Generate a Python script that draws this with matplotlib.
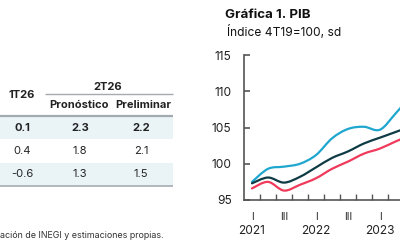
import matplotlib
matplotlib.use("Agg")
import matplotlib.pyplot as plt
from matplotlib.path import Path
from matplotlib.patches import PathPatch, Rectangle
import numpy as np

plt.rcParams['font.family'] = ['Inter', 'DejaVu Sans']

# ---- data ----
quarters = ["1T21", "2T21", "3T21", "4T21", "1T22", "2T22", "3T22", "4T22", "1T23", "2T23", "3T23"]
serie_alta = [97.5, 99.3, 99.6, 100.0, 101.2, 103.5, 104.8, 105.1, 104.7, 107.0, 109.5]
serie_media = [97.3, 98.1, 97.4, 98.2, 99.5, 100.8, 101.7, 102.8, 103.6, 104.4, 105.2]
serie_baja = [96.6, 97.5, 96.3, 97.1, 98.0, 99.3, 100.3, 101.4, 102.1, 103.1, 104.0]
quarter_labels = ["I", "", "III", "", "I", "", "III", "", "I"]
years = ["2021", "2022", "2023"]
yticks = [95, 100, 105, 110, 115]

col_headers = ["1T26", "Pronóstico", "Preliminar"]
group_header = "2T26"
table_rows = [["0.1", "2.3", "2.2"],
              ["0.4", "1.8", "2.1"],
              ["-0.6", "1.3", "1.5"]]
footnote = "ación de INEGI y estimaciones propias."
title = "Gráfica 1. PIB"
subtitle = "Índice 4T19=100, sd"

c_alta = "#1fa6cf"
c_media = "#0f3b45"
c_baja = "#f03a5c"
txt = "#222222"
grey = "#a3aab0"

fig = plt.figure(figsize=(4, 2.4), dpi=100)

# ---- table / text layer in pixel coordinates ----
tab = fig.add_axes([0, 0, 1, 1])
tab.set_xlim(0, 400)
tab.set_ylim(240, 0)
tab.axis("off")

col_x = [22, 80, 141]
row_y = [128, 151, 174]
for i, r in enumerate(table_rows):
    if i % 2 == 0:
        tab.add_patch(Rectangle((0, row_y[i] - 11), 173, 22, color="#eaf4f7", lw=0, zorder=0))
    for j, v in enumerate(r):
        tab.text(col_x[j], row_y[i], v, ha="center", va="center", fontsize=8,
                 fontweight="bold" if i == 0 else "normal", color=txt)

tab.text(col_x[0], 95, col_headers[0], ha="center", va="center", fontsize=8, fontweight="bold", color=txt)
tab.text(108, 86.5, group_header, ha="center", va="center", fontsize=8, fontweight="bold", color=txt)
tab.text(col_x[1] - 1, 105, col_headers[1], ha="center", va="center", fontsize=8, fontweight="bold", color=txt)
tab.text(143, 105, col_headers[2], ha="center", va="center", fontsize=8, fontweight="bold", color=txt)
tab.plot([45, 173], [93.5, 93.5], color=grey, lw=1.0, solid_capstyle="butt")
tab.plot([0, 173], [116, 116], color=grey, lw=1.6, solid_capstyle="butt")
tab.plot([0, 173], [185.5, 185.5], color=grey, lw=1.2, solid_capstyle="butt")
tab.text(0, 235, footnote, ha="left", va="center", fontsize=6.4, color="#333333")

tab.text(225, 15, title, ha="left", va="center", fontsize=9.6, fontweight="bold", color="#111111")
tab.text(227, 32, subtitle, ha="left", va="center", fontsize=8.6, color="#111111")

# ---- chart ----
ax = fig.add_axes([244 / 400, 40 / 240, 256 / 400, 145 / 240])
ax.set_xlim(-0.5, 15.5)
ax.set_ylim(95, 115)
x = np.arange(len(quarters))


def smooth_path(xs, ys):
    pts = np.column_stack([xs, ys])
    verts = [pts[0]]
    codes = [Path.MOVETO]
    n = len(pts)
    for i in range(n - 1):
        p0 = pts[i - 1] if i > 0 else pts[i]
        p1 = pts[i]
        p2 = pts[i + 1]
        p3 = pts[i + 2] if i + 2 < n else pts[i + 1]
        c1 = p1 + (p2 - p0) / 6.0
        c2 = p2 - (p3 - p1) / 6.0
        verts += [c1, c2, p2]
        codes += [Path.CURVE4] * 3
    return Path(verts, codes)


for ser, col in [(serie_alta, c_alta), (serie_baja, c_baja), (serie_media, c_media)]:
    ax.add_patch(PathPatch(smooth_path(x, ser), fc="none", ec=col, lw=1.6, capstyle="round"))

for s in ["top", "right"]:
    ax.spines[s].set_visible(False)
for s in ["left", "bottom"]:
    ax.spines[s].set_color("#555555")
    ax.spines[s].set_linewidth(1.2)

ax.set_yticks(yticks)
ax.set_yticklabels([str(v) for v in yticks])
ax.tick_params(axis="y", direction="in", length=4, width=1.2, color="#555555",
               labelsize=8.6, pad=9, labelcolor=txt)

ax.set_xticks(np.arange(len(quarter_labels)))
ax.set_xticklabels(quarter_labels)
ax.tick_params(axis="x", which="major", length=0, labelsize=7.4, pad=9, labelcolor=txt)
ax.set_xticks(np.arange(0.5, 15.5, 1), minor=True)
ax.tick_params(axis="x", which="minor", direction="in", length=4, width=1, color="#555555")

for k, yr in enumerate(years):
    ax.annotate(yr, xy=(4 * k, 0), xycoords=("data", "axes fraction"),
                xytext=(0, -31), textcoords="offset pixels", ha="center", va="center",
                fontsize=8.6, color=txt, annotation_clip=False)

fig.savefig("out.png", dpi=100)
